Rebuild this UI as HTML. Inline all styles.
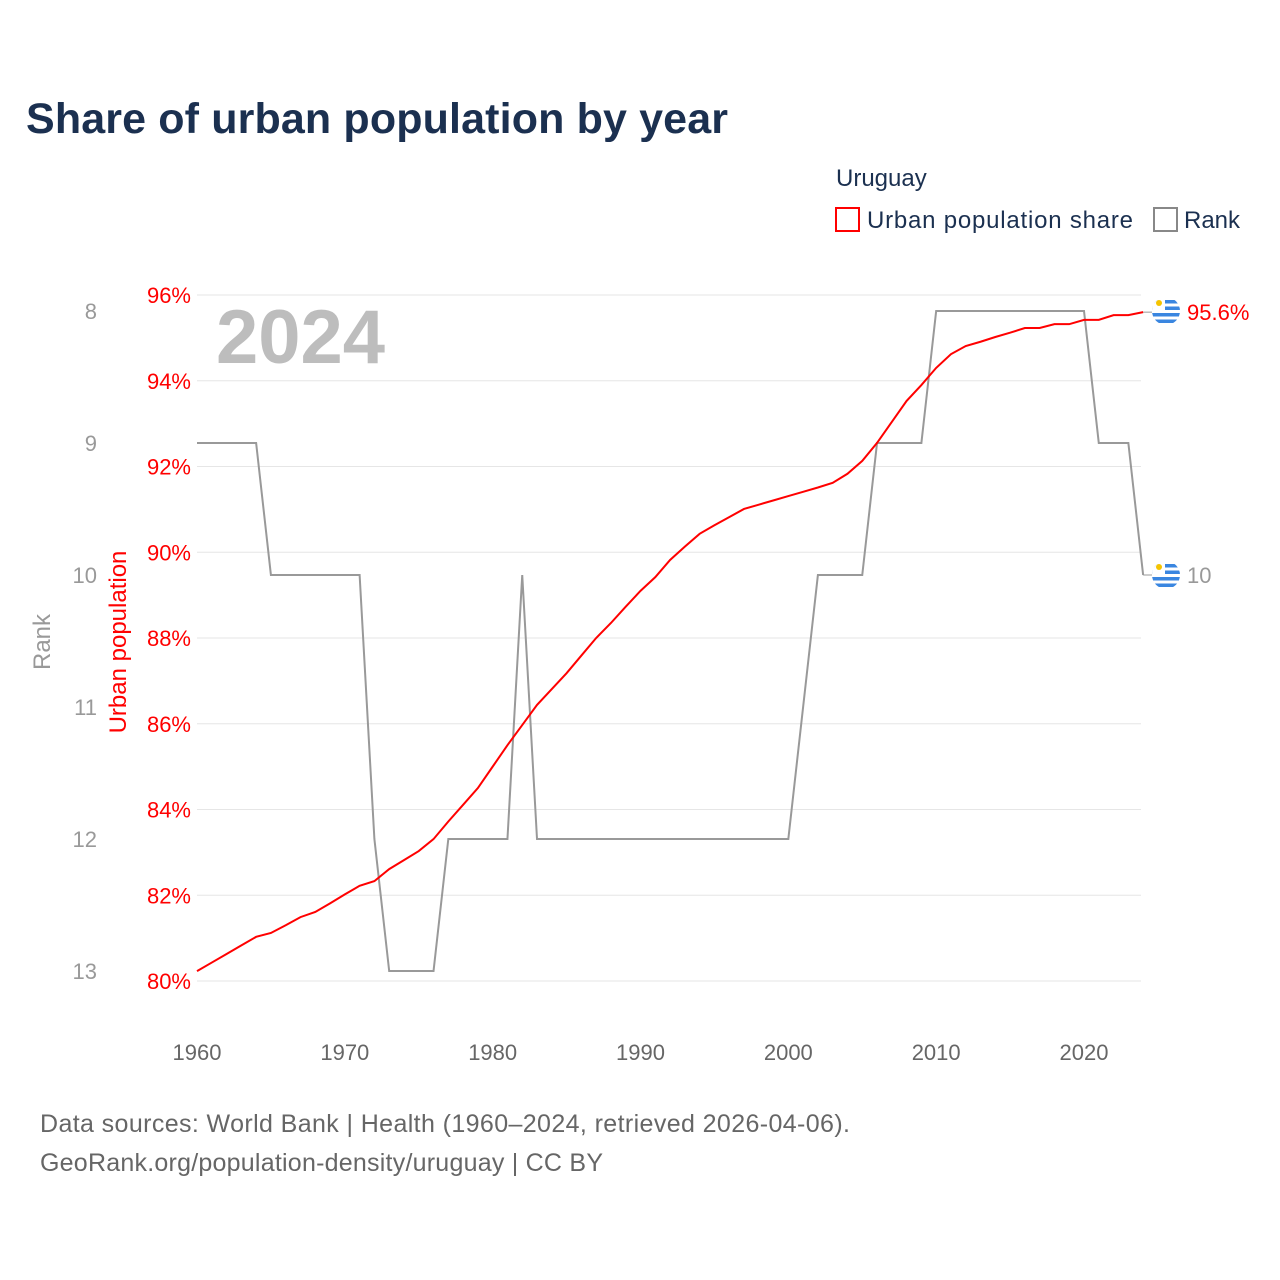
<!DOCTYPE html>
<html><head><meta charset="utf-8"><style>
body{margin:0;background:#fff;}
svg{display:block;font-family:"Liberation Sans",sans-serif;}
</style></head><body>
<svg width="1280" height="1280" viewBox="0 0 1280 1280">
<defs>
<clipPath id="fc1"><circle cx="1166" cy="311" r="14"/></clipPath>
<clipPath id="fc2"><circle cx="1166" cy="575" r="14"/></clipPath>
</defs>
<rect width="1280" height="1280" fill="#fff"/>
<text x="26" y="133" font-size="43" font-weight="bold" fill="#1b3050" textLength="702">Share of urban population by year</text>
<text x="836" y="186" font-size="24" fill="#1b3050">Uruguay</text>
<g>
<rect x="836" y="208" width="23" height="23" fill="none" stroke="#f00" stroke-width="2"/>
<text x="867" y="228" font-size="24" fill="#1b3050" textLength="266">Urban population share</text></g>
<g>
<rect x="1154" y="208" width="23" height="23" fill="none" stroke="#888" stroke-width="2"/>
<text x="1184" y="228" font-size="24" fill="#1b3050">Rank</text></g>
<g id="grid"></g>
<g id="axes"></g>
<text x="216" y="363" font-size="76" font-weight="bold" fill="#bdbdbd">2024</text>
<text transform="translate(126,642) rotate(-90)" text-anchor="middle" font-size="24" fill="#f00">Urban population</text>
<text transform="translate(50,642) rotate(-90)" text-anchor="middle" font-size="24" fill="#999">Rank</text>
<g id="series"></g>
<text x="40" y="1132" font-size="25" fill="#666" textLength="810">Data sources: World Bank | Health (1960–2024, retrieved 2026-04-06).</text>
<text x="40" y="1171" font-size="25" fill="#666" textLength="563">GeoRank.org/population-density/uruguay | CC BY</text>
</svg>
<script>
const years=[];for(let y=1960;y<=2024;y++)years.push(y);
const urbanShare=[80.23,80.43,80.63,80.83,81.03,81.12,81.3,81.49,81.61,81.81,82.02,82.22,82.33,82.61,82.82,83.03,83.31,83.72,84.11,84.5,85.0,85.5,85.97,86.44,86.81,87.18,87.59,88.0,88.35,88.73,89.1,89.42,89.82,90.13,90.43,90.63,90.82,91.01,91.11,91.21,91.31,91.41,91.51,91.62,91.83,92.13,92.55,93.04,93.53,93.9,94.3,94.62,94.81,94.91,95.02,95.12,95.23,95.23,95.32,95.32,95.42,95.42,95.53,95.53,95.6];
const rank=[9,9,9,9,9,10,10,10,10,10,10,10,12,13,13,13,13,12,12,12,12,12,10,12,12,12,12,12,12,12,12,12,12,12,12,12,12,12,12,12,12,11,10,10,10,10,9,9,9,9,8,8,8,8,8,8,8,8,8,8,8,9,9,9,10];
const xTicks=[1960,1970,1980,1990,2000,2010,2020];
const pctTicks=[80,82,84,86,88,90,92,94,96];
const rankTicks=[8,9,10,11,12,13];
const NS="http://www.w3.org/2000/svg";
const X=y=>197+(y-1960)*(1084-197)/60;
const YP=p=>981-(p-80)*(981-295)/16;
const YR=r=>311+(r-8)*(971-311)/5;
function mk(tag,attrs,parent,txt){const e=document.createElementNS(NS,tag);for(const k in attrs)e.setAttribute(k,attrs[k]);if(txt!==undefined)e.textContent=txt;parent.appendChild(e);return e;}
const grid=document.getElementById('grid'),axes=document.getElementById('axes'),ser=document.getElementById('series');
pctTicks.forEach(p=>{
 const l=mk('line',{x1:197,x2:1141,y1:YP(p),y2:YP(p),stroke:'#e6e6e6','stroke-width':1},grid);
 
 
 const t=mk('text',{x:191,y:YP(p)+8,'text-anchor':'end','font-size':22,fill:'#f00'},axes,p+'%');
 
 
});
rankTicks.forEach(r=>{
 const t=mk('text',{x:97,y:YR(r)+8,'text-anchor':'end','font-size':22,fill:'#999'},axes,r);
 
 
});
xTicks.forEach(y=>{
 const t=mk('text',{x:X(y),y:1060,'text-anchor':'middle','font-size':22,fill:'#666'},axes,y);
 
 
});
const rp=mk('polyline',{points:years.map((y,i)=>X(y)+','+YR(rank[i])).join(' '),fill:'none',stroke:'#999','stroke-width':2},ser);


const up=mk('polyline',{points:years.map((y,i)=>X(y)+','+YP(urbanShare[i])).join(' '),fill:'none',stroke:'#f00','stroke-width':2},ser);


function flag(cx,cy,name,clip){
 const g=mk('g',{'clip-path':'url(#'+clip+')'},ser);
 
 
 mk('rect',{x:cx-14,y:cy-14,width:28,height:28,fill:'#fff'},g);
 for(let i=0;i<4;i++){mk('rect',{x:cx-14,y:cy-11+i*6.5,width:28,height:3.5,fill:'#3a86e0'},g);}
 mk('rect',{x:cx-14,y:cy-14,width:13,height:13,fill:'#fff'},g);
 mk('circle',{cx:cx-7,cy:cy-8,r:3,fill:'#f5c400'},g);
}
const last=years.length-1;
const lu=YP(urbanShare[last]),lr=YR(rank[last]);
mk('line',{x1:X(2024),x2:1152,y1:lu,y2:lu,stroke:'#999','stroke-width':1},ser);
mk('line',{x1:X(2024),x2:1152,y1:lr,y2:lr,stroke:'#999','stroke-width':1},ser);
flag(1166,311,'flag-urban-end','fc1');
flag(1166,575,'flag-rank-end','fc2');
const l1=mk('text',{x:1187,y:lu+8,'font-size':22,fill:'#f00'},ser,urbanShare[last]+'%');


const l2=mk('text',{x:1187,y:lr+8,'font-size':22,fill:'#999'},ser,rank[last]);


</script>
</body></html>
